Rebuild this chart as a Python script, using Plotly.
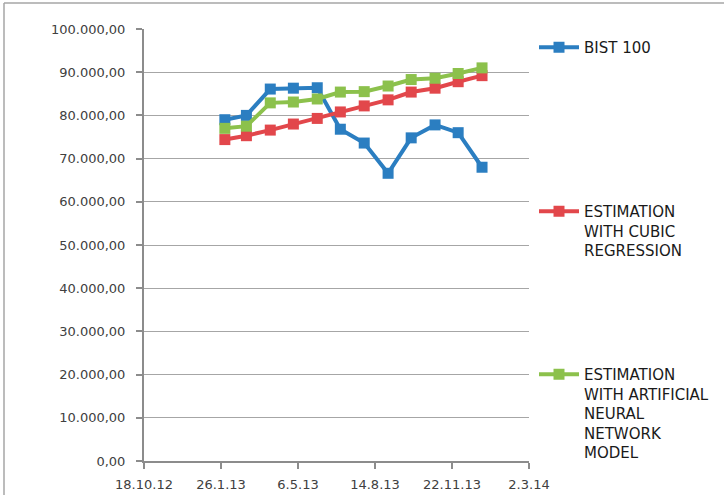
import plotly.graph_objects as go

dates = ["2013-01-31", "2013-02-28", "2013-03-31", "2013-04-30", "2013-05-31", "2013-06-30",
         "2013-07-31", "2013-08-31", "2013-09-30", "2013-10-31", "2013-11-30", "2013-12-31"]
bist100 = [79000, 80000, 86100, 86300, 86400, 76800, 73600, 66600, 74800, 77800, 76000, 68000]
cubic = [74400, 75300, 76600, 78000, 79300, 80800, 82200, 83600, 85400, 86300, 87800, 89200]
ann = [77000, 77500, 82900, 83100, 83800, 85400, 85500, 86800, 88300, 88600, 89700, 91000]

names = ["BIST 100", "ESTIMATION<br>WITH CUBIC<br>REGRESSION",
         "ESTIMATION<br>WITH ARTIFICIAL<br>NEURAL<br>NETWORK<br>MODEL"]
colors = ["#2B7EC1", "#E2474B", "#8CC14C"]
series = [bist100, cubic, ann]
legends = ["legend", "legend2", "legend3"]

FONT = "DejaVu Sans"
TXT = "#404040"

fig = go.Figure()
for nm, vals, col, lg in zip(names, series, colors, legends):
    fig.add_trace(go.Scatter(
        x=dates, y=vals, mode="lines+markers", name=nm, legend=lg,
        line=dict(color=col, width=4),
        marker=dict(symbol="square", size=11, color=col),
    ))

def leg(ytop):
    return dict(x=534 / 724, xref="container", y=1 - ytop / 495, yref="container",
                xanchor="left", yanchor="top", bgcolor="rgba(0,0,0,0)",
                font=dict(family=FONT, size=15, color="#1a1a1a"), valign="top",
                itemwidth=40)

fig.update_layout(
    width=724, height=495,
    margin=dict(l=144, r=195, t=29, b=34, autoexpand=False),
    paper_bgcolor="white", plot_bgcolor="white",
    separators=",.",
    showlegend=True,
    legend=leg(31),
    legend2=leg(195),
    legend3=leg(358),
    xaxis=dict(
        type="date",
        range=["2012-10-18", "2014-03-02"],
        tick0="2012-10-18", dtick=100 * 86400000,
        tickformat="%-d.%-m.%y",
        showgrid=False, showline=True, linecolor="#8C8C8C", linewidth=2,
        ticks="outside", ticklen=6, tickcolor="#8C8C8C", tickwidth=2,
        tickfont=dict(family=FONT, size=13, color=TXT),
        ticklabelstandoff=4,
        zeroline=False,
    ),
    yaxis=dict(
        range=[0, 100000], dtick=10000, tickformat=",.2f",
        showgrid=True, gridcolor="#A6A6A6", gridwidth=1,
        showline=True, linecolor="#8C8C8C", linewidth=2,
        ticks="outside", ticklen=6, tickcolor="#8C8C8C", tickwidth=2,
        tickfont=dict(family=FONT, size=13, color=TXT),
        ticklabelstandoff=8,
        zeroline=False,
    ),
    shapes=[
        dict(type="line", xref="paper", yref="paper",
             x0=(4 - 144) / 385, x1=(4 - 144) / 385,
             y0=(461 - 3) / 432, y1=(461 - 500) / 432,
             line=dict(color="#A6A6A6", width=1.5)),
        dict(type="line", xref="paper", yref="paper",
             x0=(4 - 144) / 385, x1=(730 - 144) / 385,
             y0=(461 - 3) / 432, y1=(461 - 3) / 432,
             line=dict(color="#A6A6A6", width=1.5)),
    ],
)

fig.write_html("out.html", config={"displayModeBar": False},
               post_script="document.body.style.margin='0';")
